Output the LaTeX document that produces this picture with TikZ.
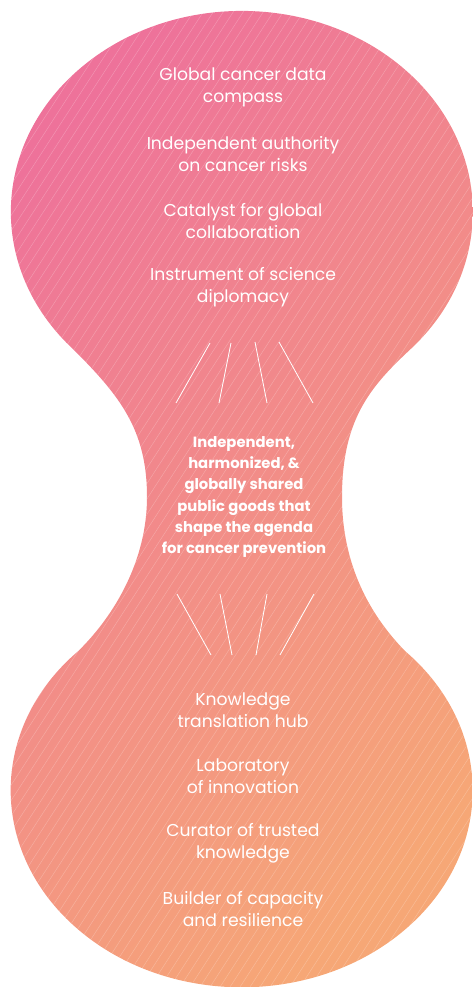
\documentclass[tikz,border=0pt]{standalone}
\usepackage{fontspec}
\setmainfont{Poppins}
\definecolor{pinkA}{RGB}{238,114,154}
\definecolor{midA}{RGB}{242,137,140}
\definecolor{orangeA}{RGB}{246,167,118}
\begin{document}
\begin{tikzpicture}[x=1pt,y=-1pt,
  item/.style={text=white, align=center, inner sep=0pt, font=\fontsize{17.2}{22}\selectfont},
  core/.style={text=white, align=center, inner sep=0pt, font=\bfseries\fontsize{14.8}{21.3}\selectfont},
  ray/.style={white, line width=0.8pt},
  hatch/.style={white, opacity=0.28, line width=0.4pt}]
\useasboundingbox (0,0) rectangle (473,987);
\begin{scope}
\clip (74,350) arc[start angle=136.6, end angle=403.4, x radius=231, y radius=201]
  .. controls (370,387) and (342,420) .. (342,497)
  .. controls (342,565) and (370,615) .. (405,651)
  arc[start angle=315, end angle=585, x radius=231, y radius=197]
  .. controls (115,615) and (147,560) .. (147,497)
  .. controls (147,430) and (120,396) .. (74,350) -- cycle;
\shade[top color=pinkA, middle color=midA, bottom color=orangeA, shading angle=45] (-20,-20) rectangle (493,1007);
\foreach \i in {-66,...,48} \draw[hatch] (\i*10,987) -- (\i*10+641,0);
\end{scope}
% texts
\node[item] (a1) at (243,87) {Global cancer data\\compass};
\node[item] (a2) at (243,154) {Independent authority\\on cancer risks};
\node[item] (a3) at (243,221) {Catalyst for global\\collaboration};
\node[item] (a4) at (243,287) {Instrument of science\\diplomacy};
\node[core] (c) at (244,497) {Independent,\\harmonized, \&\\globally shared\\public goods that\\shape the agenda\\for cancer prevention};
\node[item] (b1) at (243,710) {Knowledge\\translation hub};
\node[item] (b2) at (243,776) {Laboratory\\of innovation};
\node[item] (b3) at (243,843) {Curator of trusted\\knowledge};
\node[item] (b4) at (243,909) {Builder of capacity\\and resilience};
% rays
\coordinate (t1a) at (210,343); \coordinate (t1b) at (176,403);
\coordinate (t2a) at (231,343); \coordinate (t2b) at (219,403);
\coordinate (t3a) at (255,342); \coordinate (t3b) at (267,403);
\coordinate (t4a) at (279,342); \coordinate (t4b) at (313,403);
\coordinate (u1a) at (177,594); \coordinate (u1b) at (211,655);
\coordinate (u2a) at (220,594); \coordinate (u2b) at (232,655);
\coordinate (u3a) at (267,594); \coordinate (u3b) at (256,655);
\coordinate (u4a) at (314,594); \coordinate (u4b) at (280,655);
\foreach \p in {t1,t2,t3,t4,u1,u2,u3,u4} \draw[ray] (\p a) -- (\p b);
\end{tikzpicture}
\end{document}
